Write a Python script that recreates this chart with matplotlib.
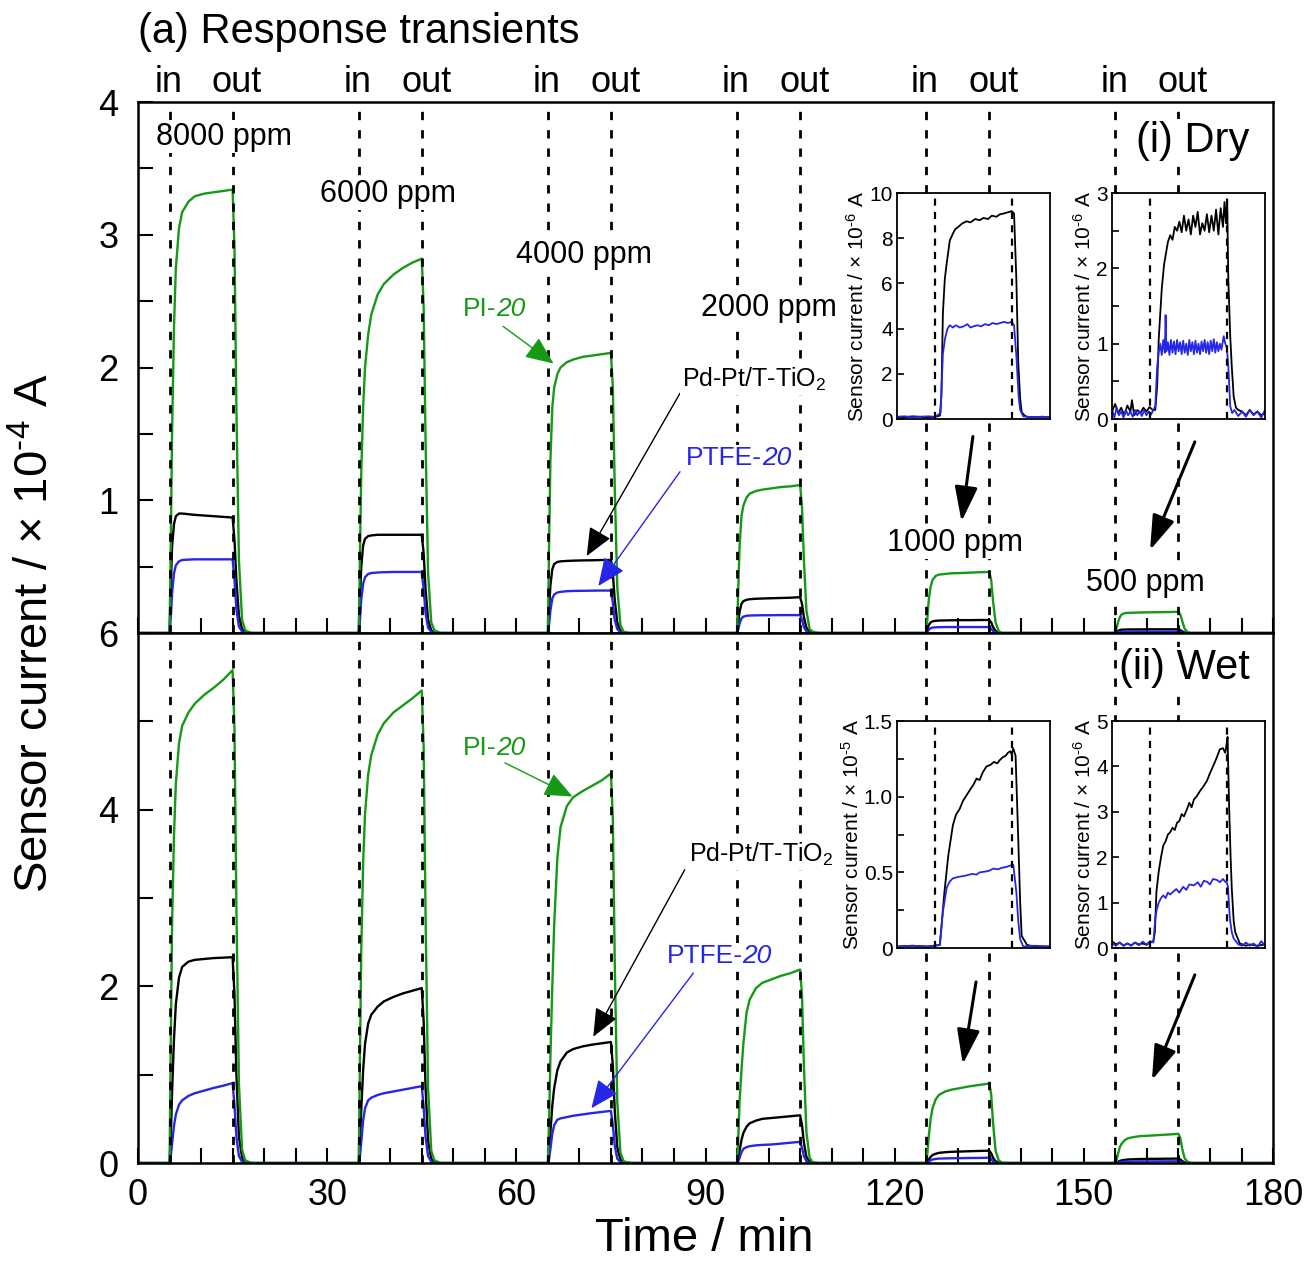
import numpy as np
import matplotlib

matplotlib.use("Agg")
import matplotlib.pyplot as plt
from matplotlib.ticker import MultipleLocator, FixedLocator

plt.rcParams["font.family"] = ["Liberation Sans", "DejaVu Sans"]
plt.rcParams["mathtext.fontset"] = "custom"
plt.rcParams["mathtext.rm"] = "Liberation Sans"
plt.rcParams["mathtext.it"] = "Liberation Sans:italic"
plt.rcParams["mathtext.bf"] = "Liberation Sans:bold"

GREEN = "#169a16"
BLUE = "#2626e8"
HY = "\u2010"  # short hyphen for exponents

# gas in / out times (min)
IN_TIMES = [5, 35, 65, 95, 125, 155]
OUT_TIMES = [15, 45, 75, 105, 135, 165]

# time offsets inside each pulse (min, relative to "in")
T_REL = [0, 0.2, 0.4, 0.7, 1.0, 1.5, 2.0, 3.0, 4.0, 5.5, 7.0, 8.5, 10.0,
         10.3, 10.6, 11.0, 11.5, 12.0, 13.0]

# ---- (i) Dry, x1e-4 A ----
DRY_PI = [
    [0, 0.7, 1.5, 2.3, 2.75, 3.05, 3.17, 3.25, 3.29, 3.31, 3.32, 3.33, 3.34, 2.9, 1.7, 0.55, 0.1, 0.02, 0],
    [0, 0.6, 1.2, 1.7, 2.0, 2.25, 2.4, 2.55, 2.63, 2.7, 2.75, 2.79, 2.82, 2.45, 1.45, 0.45, 0.08, 0.02, 0],
    [0, 0.7, 1.3, 1.7, 1.85, 1.95, 2.0, 2.04, 2.06, 2.08, 2.09, 2.1, 2.11, 1.85, 1.1, 0.35, 0.06, 0.01, 0],
    [0, 0.35, 0.65, 0.88, 0.96, 1.02, 1.05, 1.07, 1.08, 1.09, 1.1, 1.105, 1.115, 0.95, 0.55, 0.17, 0.03, 0.01, 0],
    [0, 0.12, 0.25, 0.35, 0.4, 0.43, 0.44, 0.445, 0.45, 0.452, 0.455, 0.458, 0.46, 0.4, 0.24, 0.08, 0.015, 0, 0],
    [0, 0.04, 0.08, 0.12, 0.14, 0.15, 0.152, 0.153, 0.155, 0.156, 0.157, 0.158, 0.16, 0.14, 0.09, 0.03, 0.005, 0, 0],
]
DRY_PDPT = [
    [0, 0.35, 0.65, 0.82, 0.88, 0.9, 0.9, 0.895, 0.89, 0.885, 0.88, 0.875, 0.87, 0.7, 0.4, 0.13, 0.03, 0.005, 0],
    [0, 0.25, 0.5, 0.66, 0.71, 0.73, 0.735, 0.74, 0.74, 0.74, 0.74, 0.74, 0.74, 0.6, 0.33, 0.1, 0.02, 0, 0],
    [0, 0.18, 0.36, 0.48, 0.52, 0.535, 0.54, 0.543, 0.545, 0.547, 0.548, 0.55, 0.55, 0.45, 0.25, 0.08, 0.015, 0, 0],
    [0, 0.08, 0.16, 0.22, 0.24, 0.25, 0.255, 0.258, 0.26, 0.262, 0.264, 0.266, 0.27, 0.22, 0.12, 0.04, 0.01, 0, 0],
    [0, 0.03, 0.06, 0.08, 0.088, 0.092, 0.094, 0.095, 0.096, 0.097, 0.097, 0.098, 0.098, 0.08, 0.045, 0.015, 0.003, 0, 0],
    [0, 0.008, 0.016, 0.022, 0.025, 0.026, 0.027, 0.027, 0.027, 0.028, 0.028, 0.028, 0.028, 0.022, 0.012, 0.004, 0.001, 0, 0],
]
DRY_PTFE = [
    [0, 0.12, 0.3, 0.45, 0.51, 0.54, 0.55, 0.553, 0.555, 0.555, 0.555, 0.555, 0.555, 0.4, 0.18, 0.05, 0.01, 0, 0],
    [0, 0.1, 0.25, 0.37, 0.42, 0.445, 0.452, 0.456, 0.458, 0.46, 0.46, 0.46, 0.46, 0.33, 0.15, 0.04, 0.008, 0, 0],
    [0, 0.07, 0.17, 0.26, 0.29, 0.305, 0.31, 0.315, 0.317, 0.318, 0.319, 0.32, 0.32, 0.23, 0.1, 0.03, 0.005, 0, 0],
    [0, 0.03, 0.07, 0.11, 0.123, 0.13, 0.132, 0.133, 0.134, 0.134, 0.135, 0.135, 0.135, 0.1, 0.045, 0.012, 0.002, 0, 0],
    [0, 0.01, 0.024, 0.036, 0.041, 0.043, 0.044, 0.045, 0.045, 0.045, 0.045, 0.045, 0.045, 0.033, 0.015, 0.004, 0.001, 0, 0],
    [0, 0.002, 0.005, 0.008, 0.009, 0.01, 0.01, 0.01, 0.01, 0.01, 0.01, 0.01, 0.01, 0.007, 0.003, 0.001, 0, 0, 0],
]

# ---- (ii) Wet, x1e-4 A ----
WET_PI = [
    [0, 1.4, 2.7, 3.7, 4.3, 4.75, 4.95, 5.1, 5.2, 5.3, 5.38, 5.47, 5.58, 4.9, 2.9, 0.9, 0.15, 0.03, 0],
    [0, 1.2, 2.4, 3.4, 3.95, 4.4, 4.62, 4.85, 4.98, 5.1, 5.18, 5.26, 5.35, 4.7, 2.8, 0.85, 0.14, 0.03, 0],
    [0, 0.5, 1.2, 2.0, 2.7, 3.45, 3.8, 4.04, 4.14, 4.21, 4.27, 4.33, 4.41, 3.9, 2.3, 0.7, 0.12, 0.02, 0],
    [0, 0.3, 0.7, 1.05, 1.35, 1.7, 1.85, 1.98, 2.04, 2.08, 2.12, 2.15, 2.19, 1.9, 1.1, 0.35, 0.06, 0.01, 0],
    [0, 0.12, 0.3, 0.5, 0.62, 0.72, 0.77, 0.81, 0.83, 0.85, 0.87, 0.885, 0.9, 0.78, 0.45, 0.14, 0.03, 0.005, 0],
    [0, 0.04, 0.1, 0.18, 0.22, 0.26, 0.28, 0.295, 0.305, 0.31, 0.317, 0.323, 0.33, 0.28, 0.16, 0.05, 0.01, 0, 0],
]
WET_PDPT = [
    [0, 0.3, 0.8, 1.4, 1.8, 2.1, 2.22, 2.28, 2.3, 2.31, 2.32, 2.325, 2.33, 1.9, 1.0, 0.3, 0.06, 0.01, 0],
    [0, 0.25, 0.6, 1.05, 1.35, 1.58, 1.68, 1.77, 1.83, 1.88, 1.92, 1.95, 1.98, 1.6, 0.85, 0.25, 0.05, 0.01, 0],
    [0, 0.15, 0.35, 0.65, 0.85, 1.05, 1.15, 1.25, 1.29, 1.32, 1.34, 1.355, 1.37, 1.1, 0.6, 0.18, 0.04, 0.005, 0],
    [0, 0.05, 0.14, 0.26, 0.34, 0.41, 0.45, 0.48, 0.5, 0.51, 0.52, 0.53, 0.54, 0.43, 0.23, 0.07, 0.015, 0, 0],
    [0, 0.015, 0.04, 0.07, 0.09, 0.105, 0.115, 0.122, 0.127, 0.13, 0.134, 0.137, 0.14, 0.11, 0.06, 0.02, 0.004, 0, 0],
    [0, 0.005, 0.013, 0.024, 0.03, 0.036, 0.04, 0.043, 0.045, 0.047, 0.048, 0.049, 0.05, 0.04, 0.022, 0.007, 0.001, 0, 0],
]
WET_PTFE = [
    [0, 0.08, 0.22, 0.42, 0.55, 0.66, 0.71, 0.76, 0.79, 0.82, 0.85, 0.875, 0.905, 0.65, 0.3, 0.08, 0.015, 0, 0],
    [0, 0.08, 0.24, 0.48, 0.62, 0.71, 0.74, 0.77, 0.79, 0.81, 0.83, 0.85, 0.87, 0.63, 0.29, 0.08, 0.015, 0, 0],
    [0, 0.05, 0.16, 0.33, 0.43, 0.49, 0.505, 0.52, 0.535, 0.55, 0.565, 0.578, 0.59, 0.43, 0.2, 0.05, 0.01, 0, 0],
    [0, 0.02, 0.06, 0.12, 0.16, 0.18, 0.19, 0.2, 0.205, 0.21, 0.22, 0.23, 0.24, 0.17, 0.08, 0.02, 0.004, 0, 0],
    [0, 0.005, 0.015, 0.03, 0.04, 0.046, 0.05, 0.052, 0.054, 0.055, 0.057, 0.058, 0.06, 0.045, 0.02, 0.005, 0.001, 0, 0],
    [0, 0.002, 0.005, 0.01, 0.013, 0.015, 0.016, 0.017, 0.018, 0.018, 0.019, 0.019, 0.02, 0.015, 0.007, 0.002, 0, 0, 0],
]

# ---- insets: (time min, current) ----
DRY1000_PDPT = [(120, 0.1), (121, 0.08), (122, 0.12), (123, 0.1), (124, 0.08), (125, 0.1), (125.6, 0.15),
                (125.8, 1.0), (126.0, 4.7), (126.25, 6.2), (126.5, 6.9), (126.9, 7.9), (127.3, 8.2),
                (127.6, 8.4), (128.0, 8.5), (128.5, 8.65), (129.1, 8.75), (129.6, 8.7), (130.2, 8.85),
                (130.8, 8.8), (131.3, 8.9), (131.9, 8.85), (132.4, 9.0), (133.0, 8.95), (133.4, 9.05),
                (134.0, 9.1), (134.5, 9.15), (135.0, 9.2), (135.3, 9.1), (135.6, 6.2), (135.85, 2.5),
                (136.1, 0.9), (136.3, 0.3), (136.7, 0.15), (137.0, 0.1), (138, 0.08), (139, 0.1), (140, 0.08)]
DRY1000_PTFE = [(120, 0.1), (121, 0.12), (122, 0.08), (123, 0.1), (124, 0.12), (125, 0.1), (125.7, 0.27),
                (126.0, 2.9), (126.3, 3.6), (126.6, 4.0), (126.9, 4.15), (127.3, 4.05), (127.7, 4.15),
                (128.2, 4.05), (128.7, 4.1), (129.2, 4.2), (129.6, 4.05), (130.0, 4.1), (130.5, 4.15),
                (131.0, 4.1), (131.5, 4.2), (132.0, 4.15), (132.5, 4.25), (133.0, 4.2), (133.5, 4.25),
                (134.0, 4.3), (134.5, 4.25), (135.0, 4.3), (135.3, 4.15), (135.6, 2.8), (135.9, 1.0),
                (136.1, 0.4), (136.5, 0.12), (137, 0.1), (138, 0.08), (139, 0.1), (140, 0.08)]
DRY500_PDPT = [(150, 0.1), (150.4, 0.2), (150.8, 0.08), (151.2, 0.15), (151.6, 0.05), (152.0, 0.18),
               (152.4, 0.1), (152.6, 0.25), (152.9, 0.05), (153.3, 0.12), (153.7, 0.08), (154.1, 0.15),
               (154.5, 0.1), (154.9, 0.16), (155.3, 0.12), (155.65, 0.12), (155.9, 0.44), (156.1, 1.06),
               (156.5, 1.73), (156.8, 2.05), (157.0, 2.17), (157.3, 2.35), (157.6, 2.44), (157.9, 2.38),
               (158.2, 2.55), (158.5, 2.5), (158.8, 2.62), (159.1, 2.48), (159.4, 2.7), (159.7, 2.5),
               (160.0, 2.65), (160.3, 2.45), (160.6, 2.7), (160.9, 2.55), (161.2, 2.75), (161.5, 2.45),
               (161.8, 2.6), (162.1, 2.5), (162.4, 2.72), (162.7, 2.48), (163.0, 2.7), (163.3, 2.5),
               (163.6, 2.78), (163.9, 2.45), (164.2, 2.8), (164.5, 2.55), (164.7, 2.88), (164.9, 2.6),
               (165.05, 2.9), (165.2, 1.85), (165.45, 1.1), (165.65, 0.7), (165.9, 0.3), (166.2, 0.15),
               (166.5, 0.12), (167, 0.1), (167.5, 0.05), (168, 0.12), (168.5, 0.06), (169, 0.1),
               (169.5, 0.05), (170, 0.08)]
DRY500_PTFE = [(150, 0.12), (150.3, 0.02), (150.6, 0.15), (150.9, 0.05), (151.2, 0.1), (151.5, 0.02),
               (151.8, 0.12), (152.1, 0.05), (152.4, 0.1), (152.7, 0.03), (153.0, 0.12), (153.3, 0.05),
               (153.6, 0.1), (153.9, 0.04), (154.2, 0.12), (154.5, 0.05), (154.8, 0.1), (155.1, 0.06),
               (155.4, 0.12), (155.65, 0.17), (155.9, 0.7), (156.1, 0.88), (156.3, 1.0), (156.5, 0.85),
               (156.7, 1.05), (156.9, 0.88), (157.0, 1.38), (157.1, 0.9), (157.3, 1.02), (157.5, 0.85),
               (157.7, 1.05), (157.9, 0.88), (158.1, 1.03), (158.3, 0.86), (158.5, 1.05), (158.7, 0.9),
               (158.9, 1.02), (159.1, 0.86), (159.3, 1.04), (159.5, 0.88), (159.7, 1.0), (159.9, 0.85),
               (160.1, 1.05), (160.3, 0.9), (160.5, 1.02), (160.7, 0.86), (160.9, 1.04), (161.1, 0.88),
               (161.3, 1.0), (161.5, 0.86), (161.7, 1.03), (161.9, 0.9), (162.1, 1.05), (162.3, 0.88),
               (162.5, 1.02), (162.7, 0.86), (162.9, 1.04), (163.1, 0.9), (163.3, 1.06), (163.5, 0.88),
               (163.7, 1.02), (163.9, 0.9), (164.1, 1.0), (164.3, 0.92), (164.6, 1.1), (164.8, 1.0),
               (165.0, 0.95), (165.2, 0.7), (165.45, 0.17), (165.7, 0.08), (166.0, 0.12), (166.5, 0.04),
               (167.0, 0.1), (167.5, 0.03), (168.0, 0.12), (168.5, 0.05), (169.0, 0.1), (169.5, 0.02),
               (170, 0.12)]
WET1000_PDPT = [(120, 0.01), (122, 0.015), (124, 0.01), (125.6, 0.02), (126.2, 0.37), (126.7, 0.61),
                (127.3, 0.81), (127.7, 0.88), (128.2, 0.92), (128.6, 0.97), (129.1, 1.01), (129.6, 1.05),
                (130.0, 1.08), (130.4, 1.12), (130.8, 1.11), (131.2, 1.16), (131.7, 1.2), (132.2, 1.21),
                (132.7, 1.23), (133.1, 1.22), (133.4, 1.24), (133.8, 1.26), (134.2, 1.27), (134.5, 1.29),
                (134.8, 1.3), (135.0, 1.28), (135.2, 1.32), (135.5, 1.27), (135.85, 0.72), (136.1, 0.3),
                (136.3, 0.08), (137, 0.02), (138, 0.01), (140, 0.01)]
WET1000_PTFE = [(120, 0.01), (122, 0.015), (124, 0.01), (125.6, 0.02), (126.0, 0.24), (126.5, 0.4),
                (126.9, 0.44), (127.3, 0.46), (128.0, 0.47), (128.6, 0.475), (129.1, 0.48), (129.8, 0.49),
                (130.4, 0.485), (130.8, 0.5), (131.5, 0.505), (132.0, 0.51), (132.6, 0.525), (133.2, 0.52),
                (133.7, 0.53), (134.3, 0.536), (134.8, 0.545), (135.2, 0.55), (135.6, 0.37), (135.85, 0.18),
                (136.1, 0.06), (136.5, 0.01), (138, 0.015), (140, 0.01)]
WET500_PDPT = [(150, 0.15), (150.5, 0.08), (151, 0.12), (151.5, 0.05), (152, 0.1), (152.5, 0.06),
               (153, 0.12), (153.5, 0.08), (154, 0.1), (154.5, 0.07), (155, 0.12), (155.4, 0.15),
               (155.6, 0.35), (155.8, 1.24), (156.1, 1.68), (156.4, 2.0), (156.7, 2.26), (157.0, 2.35),
               (157.3, 2.5), (157.6, 2.55), (157.9, 2.65), (158.2, 2.6), (158.5, 2.76), (158.8, 2.8),
               (159.1, 2.95), (159.4, 2.9), (159.8, 3.06), (160.1, 3.2), (160.4, 3.1), (160.7, 3.27),
               (161.1, 3.35), (161.5, 3.46), (161.9, 3.55), (162.4, 3.68), (162.8, 3.85), (163.3, 4.04),
               (163.7, 4.2), (164.1, 4.38), (164.5, 4.4), (164.8, 4.3), (165.0, 4.5), (165.1, 4.65),
               (165.3, 3.15), (165.5, 2.0), (165.65, 1.32), (165.9, 0.6), (166.1, 0.35), (166.7, 0.1),
               (167.5, 0.05), (168, 0.08), (169, 0.05), (170, 0.08)]
WET500_PTFE = [(150, 0.1), (150.5, 0.05), (151, 0.12), (151.5, 0.06), (152, 0.1), (152.5, 0.05),
               (153, 0.12), (153.5, 0.06), (154, 0.14), (154.5, 0.08), (155, 0.15), (155.4, 0.12),
               (155.65, 0.65), (155.85, 0.85), (156.1, 1.0), (156.4, 1.1), (156.7, 1.16), (157.0, 1.1),
               (157.3, 1.22), (157.6, 1.18), (158.0, 1.24), (158.4, 1.3), (158.8, 1.22), (159.3, 1.35),
               (159.7, 1.28), (160.1, 1.4), (160.7, 1.38), (161.2, 1.45), (161.6, 1.35), (162.0, 1.48),
               (162.4, 1.46), (162.8, 1.4), (163.2, 1.52), (163.7, 1.5), (164.1, 1.45), (164.5, 1.52),
               (164.8, 1.46), (165.0, 1.45), (165.15, 1.35), (165.4, 0.65), (165.65, 0.35), (165.9, 0.21),
               (166.5, 0.08), (167, 0.05), (167.5, 0.12), (168, 0.05), (168.5, 0.1), (169, 0.02),
               (169.5, 0.15), (170, 0.05)]

CONC_LABELS = ["8000 ppm", "6000 ppm", "4000 ppm", "2000 ppm", "1000 ppm", "500 ppm"]
CONC_POS = [(13.6, 3.74), (39.6, 3.31), (70.7, 2.85), (100.1, 2.45), (129.6, 0.68), (159.8, 0.38)]

WHITE_BOX = dict(facecolor="white", edgecolor="none", pad=1.0)


def pulse_series(vals_list):
    t, y = [0.0], [0.0]
    for t0, vals in zip(IN_TIMES, vals_list):
        t += [t0 + r for r in T_REL]
        y += list(vals)
    t.append(180.0)
    y.append(0.0)
    return t, y


def dashed(ax, lw=2.0):
    for t in IN_TIMES + OUT_TIMES:
        ax.axvline(t, color="k", lw=lw, ls=(0, (3, 3.6)), zorder=3)


def style_main(ax, ymax, major, minor):
    ax.set_xlim(0, 180)
    ax.set_ylim(0, ymax)
    ax.xaxis.set_major_locator(MultipleLocator(30))
    ax.xaxis.set_minor_locator(MultipleLocator(5))
    ax.yaxis.set_major_locator(FixedLocator(major))
    ax.yaxis.set_minor_locator(FixedLocator(minor))
    ax.tick_params(which="both", direction="in", length=11, width=1.5,
                   top=False, right=False, labelsize=26)
    ax.tick_params(axis="y", pad=14)
    ax.tick_params(axis="x", pad=11)
    for s in ax.spines.values():
        s.set_linewidth(1.8)


def arrow(ax, tail, head, color="k", lw=1.0, hl=0.7, hw=0.3):
    ax.annotate("", xy=head, xytext=tail,
                arrowprops=dict(arrowstyle=f"-|>,head_length={hl},head_width={hw}",
                                color=color, lw=lw, mutation_scale=25,
                                shrinkA=0, shrinkB=0), zorder=6)


def name_label(ax, x, y, prefix, color, fontsize=19):
    # upright prefix followed by italic "20"
    t1 = ax.text(x, y, prefix, color=color, ha="left", va="baseline",
                 fontsize=fontsize, zorder=7, bbox=WHITE_BOX)
    ax.annotate("20", xy=(1, 0), xycoords=t1, ha="left", va="bottom",
                color=color, fontsize=fontsize, fontstyle="italic", zorder=7)


def make_inset(rect, xlim, ylim, ticks, ticklabels, minor, exp, black, blue):
    ax = fig.add_axes(rect, zorder=10)
    ax.set_facecolor("white")
    tb, yb = zip(*black)
    tu, yu = zip(*blue)
    ax.plot(tb, yb, color="k", lw=1.3)
    ax.plot(tu, yu, color=BLUE, lw=1.3)
    for t in IN_TIMES + OUT_TIMES:
        if xlim[0] < t < xlim[1]:
            ax.axvline(t, color="k", lw=1.6, ls=(0, (3.2, 2.8)), zorder=3)
    ax.set_xlim(*xlim)
    ax.set_ylim(*ylim)
    ax.set_xticks([])
    ax.set_yticks(ticks)
    ax.set_yticklabels(ticklabels)
    if minor:
        ax.yaxis.set_minor_locator(FixedLocator(minor))
    ax.tick_params(which="both", direction="in", length=5, width=1.2, labelsize=15, pad=3)
    ax.set_ylabel(f"Sensor current / × 10$^{{{HY}{exp}}}$ A", fontsize=15, labelpad=1)
    for s in ax.spines.values():
        s.set_linewidth(1.3)
    return ax


fig = plt.figure(figsize=(13.12, 12.61), dpi=100)
L, W = 0.1052, 0.8651
ax_dry = fig.add_axes([L, 0.4980, W, 0.4211])
ax_wet = fig.add_axes([L, 0.0777, W, 0.4203])

for ax, data in [(ax_dry, (DRY_PDPT, DRY_PTFE, DRY_PI)),
                 (ax_wet, (WET_PDPT, WET_PTFE, WET_PI))]:
    for vals, col in zip(data, ["k", BLUE, GREEN]):
        t, y = pulse_series(vals)
        ax.plot(t, y, color=col, lw=1.7, zorder=2)
    dashed(ax)

style_main(ax_dry, 4, [1, 2, 3, 4], [0.5, 1.5, 2.5, 3.5])
style_main(ax_wet, 6, [0, 2, 4, 6], [1, 3, 5])
ax_dry.tick_params(axis="x", labelbottom=False)

# in / out labels
for ti, to in zip(IN_TIMES, OUT_TIMES):
    ax_dry.text(ti - 0.2, 1.019, "in", transform=ax_dry.get_xaxis_transform(),
                ha="center", va="baseline", fontsize=26)
    ax_dry.text(to + 0.7, 1.019, "out", transform=ax_dry.get_xaxis_transform(),
                ha="center", va="baseline", fontsize=26)

for lab, (x, y) in zip(CONC_LABELS, CONC_POS):
    ax_dry.text(x, y, lab, ha="center", va="center", fontsize=22, zorder=7, bbox=WHITE_BOX)

ax_dry.text(176.3, 3.71, "(i) Dry", ha="right", va="center", fontsize=30, zorder=7, bbox=WHITE_BOX)
ax_wet.text(176.3, 5.6, "(ii) Wet", ha="right", va="center", fontsize=30, zorder=7, bbox=WHITE_BOX)

# labels + arrows, dry
name_label(ax_dry, 51.5, 2.39, "PI-", GREEN)
arrow(ax_dry, (57.9, 2.31), (65.9, 2.03), color=GREEN)
ax_dry.text(86.2, 1.853, "Pd-Pt/T-TiO$_2$", ha="left", va="baseline", fontsize=18,
            zorder=7, bbox=WHITE_BOX)
arrow(ax_dry, (85.95, 1.806), (71.15, 0.58))
name_label(ax_dry, 86.85, 1.266, "PTFE-", BLUE)
arrow(ax_dry, (85.95, 1.215), (73.0, 0.354), color=BLUE)
arrow(ax_dry, (132.4, 1.48), (130.6, 0.84), lw=2.2, hl=0.85, hw=0.28)
arrow(ax_dry, (167.6, 1.44), (160.5, 0.625), lw=2.2, hl=0.85, hw=0.28)

# labels + arrows, wet
name_label(ax_wet, 51.5, 4.62, "PI-", GREEN)
arrow(ax_wet, (58.2, 4.53), (68.9, 4.15), color=GREEN)
ax_wet.text(87.3, 3.41, "Pd-Pt/T-TiO$_2$", ha="left", va="baseline", fontsize=18,
            zorder=7, bbox=WHITE_BOX)
arrow(ax_wet, (86.7, 3.32), (72.2, 1.43))
name_label(ax_wet, 83.8, 2.26, "PTFE-", BLUE)
arrow(ax_wet, (88.06, 2.15), (71.9, 0.62), color=BLUE)
arrow(ax_wet, (132.9, 2.05), (130.8, 1.12), lw=2.2, hl=0.85, hw=0.28)
arrow(ax_wet, (167.6, 2.13), (160.8, 0.94), lw=2.2, hl=0.85, hw=0.28)

# insets
make_inset([0.6837, 0.6677, 0.1166, 0.1792], (120, 140), (0, 10),
           [0, 2, 4, 6, 8, 10], ["0", "2", "4", "6", "8", "10"], None, "6",
           DRY1000_PDPT, DRY1000_PTFE)
make_inset([0.8476, 0.6677, 0.1166, 0.1792], (150, 170), (0, 3),
           [0, 1, 2, 3], ["0", "1", "2", "3"], [0.5, 1.5, 2.5], "6",
           DRY500_PDPT, DRY500_PTFE)
make_inset([0.6837, 0.2482, 0.1166, 0.1800], (120, 140), (0, 1.5),
           [0, 0.5, 1.0, 1.5], ["0", "0.5", "1.0", "1.5"], [0.25, 0.75, 1.25], "5",
           WET1000_PDPT, WET1000_PTFE)
make_inset([0.8476, 0.2482, 0.1166, 0.1800], (150, 170), (0, 5),
           [0, 1, 2, 3, 4, 5], ["0", "1", "2", "3", "4", "5"], None, "6",
           WET500_PDPT, WET500_PTFE)

fig.text(0.1052, 0.966, "(a) Response transients", fontsize=30, ha="left", va="baseline")
fig.text(0.537, 0.008, "Time / min", fontsize=34, ha="center", va="baseline")
fig.text(0.027, 0.498, f"Sensor current / × 10$^{{{HY}4}}$ A", fontsize=34,
         rotation=90, ha="center", va="center")

fig.savefig("out.png", dpi=100)
